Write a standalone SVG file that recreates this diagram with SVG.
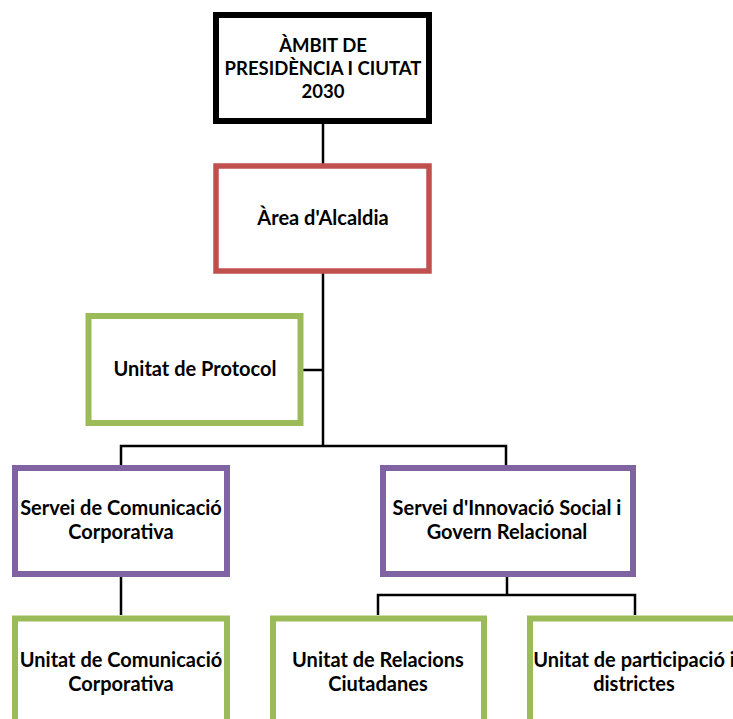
<svg xmlns="http://www.w3.org/2000/svg" width="733" height="719" viewBox="0 0 733 719">
  <style>
    .box { fill: #ffffff; }
    .top { stroke: #000000; stroke-width: 6; }
    .red { stroke: #C0504D; stroke-width: 5.5; }
    .green { stroke: #9BBB59; stroke-width: 6; }
    .purple { stroke: #8064A2; stroke-width: 6; }
    .lbl { font-family: Lato, "Liberation Sans", sans-serif; font-weight: bold; font-size: 20px; fill: #000000; text-anchor: middle; }
    .head { font-size: 18.5px; }
    .conn { fill: none; stroke: #000000; stroke-width: 2.5; }
  </style>
  <rect width="733" height="719" fill="#ffffff"/>

  <g id="connectors">
    <path class="conn" d="M323 124 V164"/>
    <path class="conn" d="M323 273 V446"/>
    <path class="conn" d="M303 370 H323"/>
    <path class="conn" d="M121 465 V446 H506 V465"/>
    <path class="conn" d="M121 577 V615"/>
    <path class="conn" d="M507 577 V595"/>
    <path class="conn" d="M378 615 V595 H635 V615"/>
  </g>

  <g id="ambit">
    <rect class="box top" x="216" y="15" width="213" height="106"/>
    <text class="lbl head" x="323" y="52">ÀMBIT DE</text>
    <text class="lbl head" x="323" y="75">PRESIDÈNCIA I CIUTAT</text>
    <text class="lbl head" x="323" y="98">2030</text>
  </g>

  <g id="alcaldia">
    <rect class="box red" x="216" y="166" width="213" height="105"/>
    <text class="lbl" x="323" y="225">Àrea d'Alcaldia</text>
  </g>

  <g id="protocol">
    <rect class="box green" x="88.5" y="316" width="212" height="107"/>
    <text class="lbl" x="195" y="376">Unitat de Protocol</text>
  </g>

  <g id="servei-comunicacio">
    <rect class="box purple" x="15" y="468" width="212" height="106"/>
    <text class="lbl" x="121" y="515">Servei de Comunicació</text>
    <text class="lbl" x="121" y="539">Corporativa</text>
  </g>

  <g id="servei-innovacio">
    <rect class="box purple" x="383" y="468" width="250" height="106"/>
    <text class="lbl" x="507" y="515">Servei d'Innovació Social i</text>
    <text class="lbl" x="507" y="539">Govern Relacional</text>
  </g>

  <g id="unitat-comunicacio">
    <rect class="box green" x="15" y="618.5" width="212" height="120"/>
    <text class="lbl" x="121" y="667">Unitat de Comunicació</text>
    <text class="lbl" x="121" y="691">Corporativa</text>
  </g>

  <g id="unitat-relacions">
    <rect class="box green" x="273" y="618.5" width="211" height="120"/>
    <text class="lbl" x="378" y="667">Unitat de Relacions</text>
    <text class="lbl" x="378" y="691">Ciutadanes</text>
  </g>

  <g id="unitat-participacio">
    <rect class="box green" x="530" y="618.5" width="210" height="120"/>
    <text class="lbl" x="634" y="667">Unitat de participació i</text>
    <text class="lbl" x="634" y="691">districtes</text>
  </g>
</svg>
